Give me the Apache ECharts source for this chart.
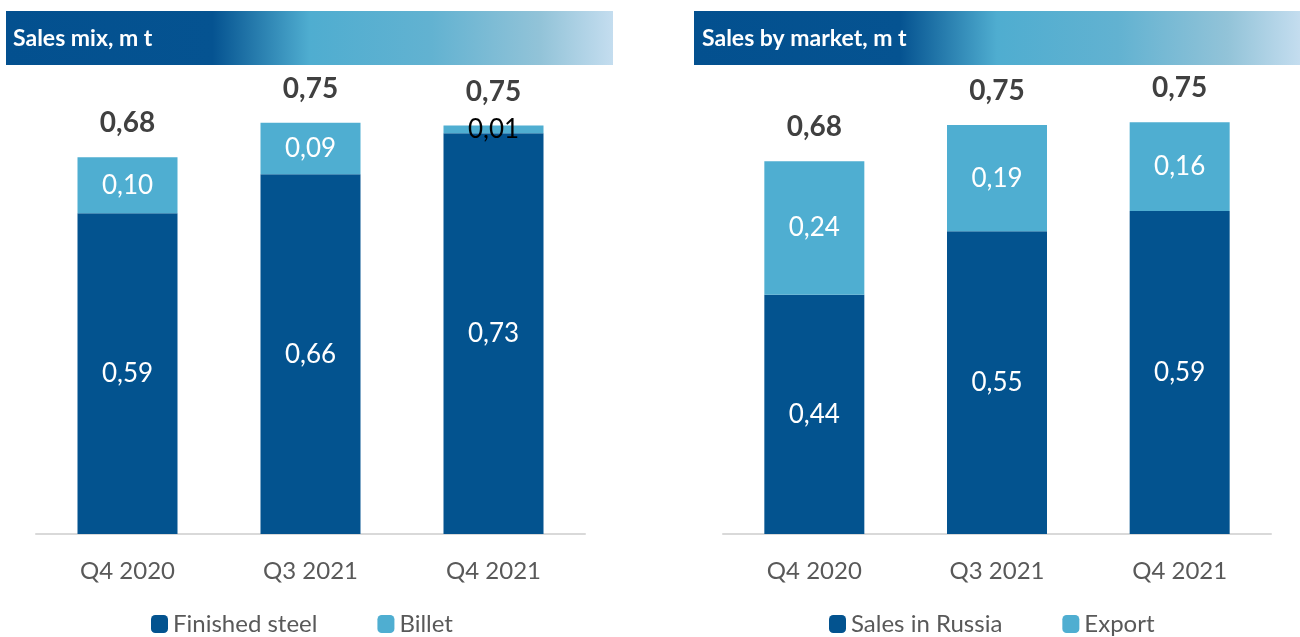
<!DOCTYPE html>
<html>
<head>
<meta charset="utf-8">
<script src="https://cdn.jsdelivr.net/npm/echarts@6/dist/echarts.min.js"></script>
<style>
  html, body { margin: 0; padding: 0; background: #fff; }
  #main { width: 1300px; height: 637px; }
</style>
</head>
<body>
<div id="main"></div>
<script>
  // data
  var categories = ['Q4 2020', 'Q3 2021', 'Q4 2021']
  var finishedSteel = [0.586, 0.657, 0.732]
  var billet = [0.102, 0.094, 0.014]
  var mixTotals = [0.68, 0.75, 0.75]
  var salesRussia = [0.437, 0.553, 0.590]
  var exportSales = [0.244, 0.194, 0.162]
  var marketTotals = [0.68, 0.75, 0.75]

  var darkBlue = '#03538f'
  var lightBlue = '#4faed1'
  var font = 'Lato'

  var fmt = function (p) {
    return p.value.toFixed(2).replace('.', ',')
  }

  var headerFill = new echarts.graphic.LinearGradient(0, 0, 1, 0, [
    { offset: 0, color: '#03508f' },
    { offset: 0.34, color: '#055391' },
    { offset: 0.42, color: '#2a80b0' },
    { offset: 0.5, color: '#4fadd0' },
    { offset: 0.7, color: '#62b2d1' },
    { offset: 0.88, color: '#92c3d8' },
    { offset: 1, color: '#c4ddef' }
  ])

  function innerLabel () {
    return {
      show: true,
      position: 'inside',
      fontFamily: font,
      fontSize: 26,
      color: '#fff',
      formatter: fmt
    }
  }

  // zero height bar on top of the stack, only carries the total label
  function totalSeries (name, stack, totals, idx) {
    return {
      name: name,
      type: 'bar',
      stack: stack,
      xAxisIndex: idx,
      yAxisIndex: idx,
      barWidth: 100,
      silent: true,
      itemStyle: { color: 'rgba(0,0,0,0)' },
      label: {
        show: true,
        position: 'top',
        distance: 20,
        fontFamily: font,
        fontWeight: 'bold',
        fontSize: 28,
        color: '#404040',
        formatter: function (p) {
          return totals[p.dataIndex].toFixed(2).replace('.', ',')
        }
      },
      data: totals.map(function () { return 0 })
    }
  }

  var legendBase = {
    top: 607,
    itemWidth: 17,
    itemHeight: 18,
    itemGap: 60,
    icon: 'roundRect',
    textStyle: { fontFamily: font, fontSize: 24, color: '#595959' }
  }

  var chart = echarts.init(document.getElementById('main'))
  chart.setOption({
    animation: false,
    textStyle: { fontFamily: font },
    graphic: [
      { type: 'rect', shape: { x: 6, y: 11, width: 607, height: 54 }, style: { fill: headerFill } },
      { type: 'rect', shape: { x: 694, y: 11, width: 606, height: 54 }, style: { fill: headerFill } },
      { type: 'text', x: 13, y: 39, style: { text: 'Sales mix, m t', fill: '#fff', fontFamily: font, fontWeight: 'bold', fontSize: 23, verticalAlign: 'middle' } },
      { type: 'text', x: 702, y: 39, style: { text: 'Sales by market, m t', fill: '#fff', fontFamily: font, fontWeight: 'bold', fontSize: 23, verticalAlign: 'middle' } }
    ],
    legend: [
      Object.assign({ data: ['Finished steel', 'Billet'], left: 146 }, legendBase),
      Object.assign({ data: ['Sales in Russia', 'Export'], left: 824 }, legendBase)
    ],
    grid: [
      { left: 36, top: 96, width: 549, height: 438 },
      { left: 723, top: 96, width: 548, height: 438 }
    ],
    xAxis: [0, 1].map(function (i) {
      return {
        type: 'category',
        gridIndex: i,
        data: categories,
        axisLine: { lineStyle: { color: '#d9d9d9', width: 2 } },
        axisTick: { show: false },
        axisLabel: { fontFamily: font, fontSize: 24, color: '#595959', margin: 25 }
      }
    }),
    yAxis: [0, 1].map(function (i) {
      return {
        type: 'value',
        gridIndex: i,
        min: 0,
        max: 0.8,
        show: false,
        splitLine: { show: false }
      }
    }),
    series: [
      {
        name: 'Finished steel',
        type: 'bar',
        stack: 'mix',
        barWidth: 100,
        itemStyle: { color: darkBlue },
        label: innerLabel(),
        data: finishedSteel
      },
      {
        name: 'Billet',
        type: 'bar',
        stack: 'mix',
        barWidth: 100,
        itemStyle: { color: lightBlue },
        label: innerLabel(),
        data: billet.map(function (v) {
          return v < 0.05 ? { value: v, label: { color: '#000' } } : v
        })
      },
      totalSeries('mixTotal', 'mix', mixTotals, 0),
      {
        name: 'Sales in Russia',
        type: 'bar',
        stack: 'market',
        xAxisIndex: 1,
        yAxisIndex: 1,
        barWidth: 100,
        itemStyle: { color: darkBlue },
        label: innerLabel(),
        data: salesRussia
      },
      {
        name: 'Export',
        type: 'bar',
        stack: 'market',
        xAxisIndex: 1,
        yAxisIndex: 1,
        barWidth: 100,
        itemStyle: { color: lightBlue },
        label: innerLabel(),
        data: exportSales
      },
      totalSeries('marketTotal', 'market', marketTotals, 1)
    ]
  })
</script>
</body>
</html>
